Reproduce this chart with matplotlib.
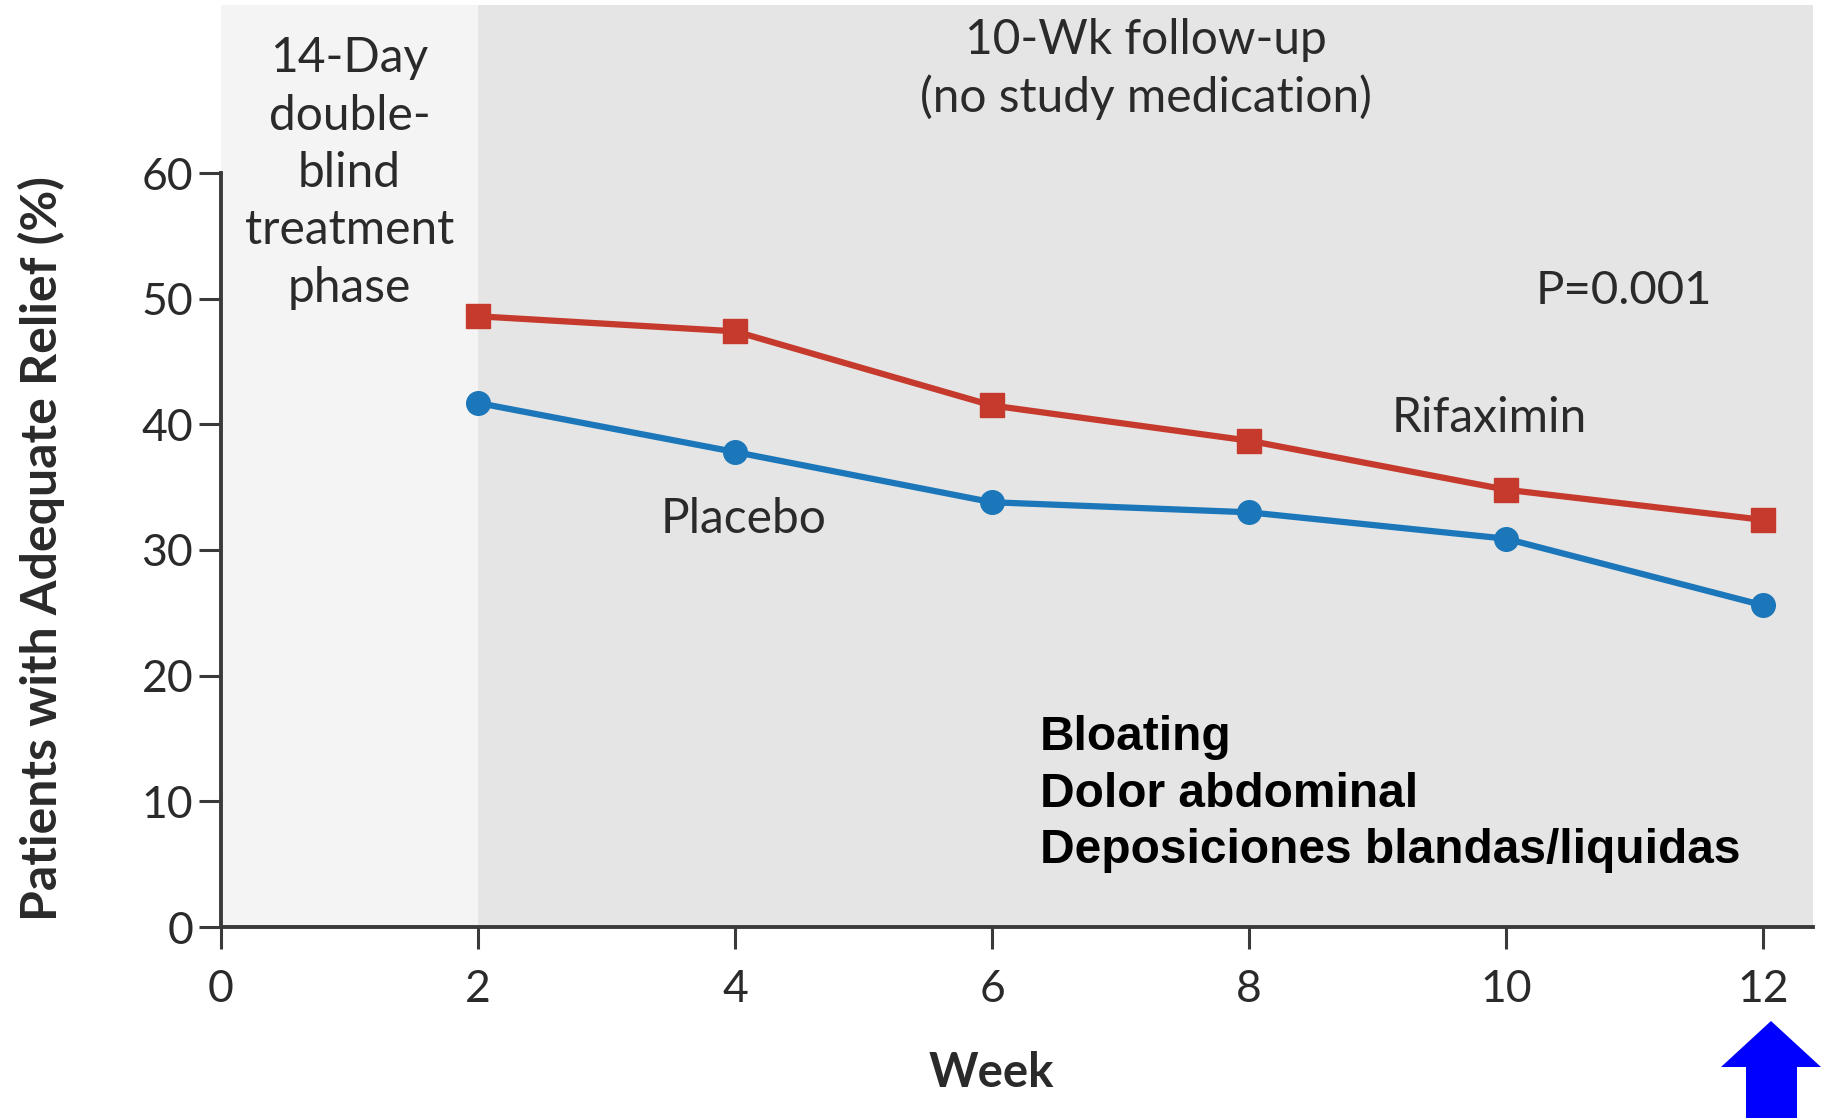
import matplotlib
matplotlib.use("Agg")
import matplotlib.pyplot as plt
from matplotlib.patches import Polygon

weeks = [2, 4, 6, 8, 10, 12]
rifaximin = [48.6, 47.4, 41.5, 38.7, 34.8, 32.4]
placebo = [41.7, 37.8, 33.8, 33.0, 30.9, 25.6]
xticks = [0, 2, 4, 6, 8, 10, 12]
yticks = [0, 10, 20, 30, 40, 50, 60]

RED = "#c53a2c"
BLUE = "#1b77b9"
DARK = "#3a3a3a"
TXT = "#2a2a2a"
FONT = ["Lato", "DejaVu Sans"]

W, H = 1825, 1118
fig = plt.figure(figsize=(W / 100, H / 100), dpi=100)
fig.patch.set_facecolor("white")

x0, x1 = 221, 1813
y0, y1 = 927, 5
ax = fig.add_axes([x0 / W, (H - y0) / H, (x1 - x0) / W, (y0 - y1) / H])
xmax = 12 + (x1 - 1763) / ((1763 - 221) / 12)
ymax = 60 * (y0 - y1) / (927 - 173)
ax.set_xlim(0, xmax)
ax.set_ylim(0, ymax)
ax.set_facecolor("none")

# shaded phases
ax.axvspan(0, 2, color="#f4f4f4", zorder=0, lw=0)
ax.axvspan(2, xmax, color="#e5e5e5", zorder=0, lw=0)

ax.plot(weeks, rifaximin, color=RED, lw=4.5, marker="s", ms=17, zorder=3)
ax.plot(weeks, placebo, color=BLUE, lw=4.5, marker="o", ms=17, zorder=3)

for s in ["top", "right"]:
    ax.spines[s].set_visible(False)
for s in ["left", "bottom"]:
    ax.spines[s].set_color(DARK)
    ax.spines[s].set_linewidth(2.8)
ax.spines["left"].set_bounds(0, 60)

ax.set_xticks(xticks)
ax.set_yticks(yticks)
ax.set_xticklabels([str(v) for v in xticks], fontsize=32, family=FONT, color=TXT)
ax.set_yticklabels([str(v) for v in yticks], fontsize=32, family=FONT, color=TXT)
ax.tick_params(axis="both", length=16, width=2.2, color=DARK)
ax.tick_params(axis="x", pad=14)
ax.tick_params(axis="y", pad=4)

ax.set_ylabel("Patients with Adequate Relief (%)", fontsize=36, fontweight="bold",
              family=FONT, color=TXT)
ax.yaxis.set_label_coords(-0.113, 0.41)
ax.yaxis.label.set_verticalalignment("center")
ax.set_xlabel("Week", fontsize=34, fontweight="bold", family=FONT, color=TXT)
ax.xaxis.set_label_coords(0.484, -0.158)
ax.xaxis.label.set_verticalalignment("center")

txt = dict(family=FONT, color=TXT, ha="center", va="center")
ax.text(1.0, 60.0, "14-Day\ndouble-\nblind\ntreatment\nphase", fontsize=34.5,
        linespacing=1.37, **txt)
ax.text(7.2, 68.3, "10-Wk follow-up\n(no study medication)", fontsize=34.5,
        linespacing=1.33, **txt)
ax.text(10.92, 50.6, "P=0.001", fontsize=34, **txt)
ax.text(9.87, 40.5, "Rifaximin", fontsize=34.5, **txt)
ax.text(4.07, 32.5, "Placebo", fontsize=34.5, **txt)

ax.text(6.37, 10.55, "Bloating\nDolor abdominal\nDeposiciones blandas/liquidas",
        fontsize=34.5, fontweight="bold", family=["Liberation Sans", "DejaVu Sans"],
        color="black", ha="left", va="center", linespacing=1.33)

# blue arrow (figure pixel coords, y from top)
pts = [(1771, 1021), (1821, 1067), (1797, 1067), (1797, 1118),
       (1746, 1118), (1746, 1067), (1721, 1067)]
arrow = Polygon([(x / W, 1 - y / H) for x, y in pts], closed=True,
                transform=fig.transFigure, facecolor="#0000ff", edgecolor="none")
fig.patches.append(arrow)

fig.savefig("out.png", dpi=100, facecolor="white")
